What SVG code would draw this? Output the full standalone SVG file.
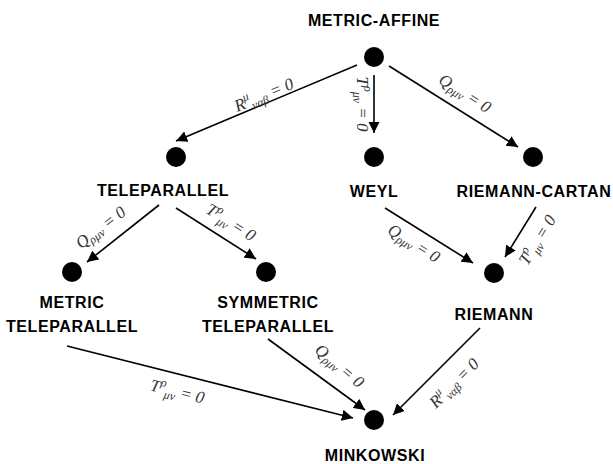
<svg xmlns="http://www.w3.org/2000/svg" width="613" height="464" viewBox="0 0 613 464">
<style>
.lbl{font-family:"Liberation Sans",Arial,sans-serif;font-weight:bold;font-size:16px;letter-spacing:0.6px;fill:#000;text-anchor:middle}
.m{font-family:"Liberation Serif","DejaVu Serif",serif;font-style:italic;font-size:17px;fill:#333;text-anchor:middle}
.s{font-size:12px}
.e{stroke:#000;stroke-width:1.6;fill:none;marker-end:url(#ah)}
.dot{fill:#000}
</style>
<defs>
<marker id="ah" viewBox="0 0 10 10" refX="10" refY="5" markerWidth="7" markerHeight="7" markerUnits="strokeWidth" orient="auto">
<path d="M0,0 L10,5 L0,10 z" fill="#000"/>
</marker>
</defs>
<rect width="613" height="464" fill="#fff"/>
<g id="n-metric-affine"><circle class="dot" cx="374" cy="57" r="10"/><text class="lbl" x="374" y="26">METRIC-AFFINE</text></g>
<g id="n-teleparallel"><circle class="dot" cx="176" cy="157" r="10"/><text class="lbl" x="163" y="196">TELEPARALLEL</text></g>
<g id="n-weyl"><circle class="dot" cx="374" cy="157" r="10"/><text class="lbl" x="374" y="197">WEYL</text></g>
<g id="n-riemann-cartan"><circle class="dot" cx="533" cy="157" r="10"/><text class="lbl" x="534" y="197">RIEMANN-CARTAN</text></g>
<g id="n-metric-teleparallel"><circle class="dot" cx="72" cy="272" r="10"/><text class="lbl" x="72" y="308">METRIC</text><text class="lbl" x="72" y="332">TELEPARALLEL</text></g>
<g id="n-symmetric-teleparallel"><circle class="dot" cx="266" cy="272" r="10"/><text class="lbl" x="268" y="308">SYMMETRIC</text><text class="lbl" x="268" y="332">TELEPARALLEL</text></g>
<g id="n-riemann"><circle class="dot" cx="494" cy="273" r="10"/><text class="lbl" x="494" y="320">RIEMANN</text></g>
<g id="n-minkowski"><circle class="dot" cx="374" cy="420" r="10"/><text class="lbl" x="375" y="461">MINKOWSKI</text></g>
<g id="connectors">
<line class="e" x1="357" y1="65" x2="176" y2="141"/>
<line class="e" x1="374" y1="75" x2="374" y2="133"/>
<line class="e" x1="389" y1="66" x2="518" y2="147"/>
<line class="e" x1="159" y1="205" x2="87" y2="262"/>
<line class="e" x1="176" y1="208" x2="256" y2="259"/>
<line class="e" x1="385" y1="208" x2="473" y2="263"/>
<line class="e" x1="536" y1="207" x2="505" y2="257"/>
<line class="e" x1="67" y1="346" x2="353" y2="418"/>
<line class="e" x1="268" y1="339" x2="365" y2="410"/>
<line class="e" x1="480" y1="328" x2="393" y2="415"/>
<text class="m" transform="translate(266,100) rotate(-22.6)">R<tspan class="s" dy="-7">μ</tspan><tspan class="s" dy="11">ναβ</tspan><tspan dy="-4"> = 0</tspan></text>
<text class="m" transform="translate(357,104) rotate(90)">T<tspan class="s" dy="-7">ρ</tspan><tspan class="s" dy="11">μν</tspan><tspan dy="-4"> = 0</tspan></text>
<text class="m" transform="translate(462,98) rotate(32.4)">Q<tspan class="s" dy="3">ρμν</tspan><tspan dy="-3"> = 0</tspan></text>
<text class="m" transform="translate(104,232) rotate(-37.4)">Q<tspan class="s" dy="3">ρμν</tspan><tspan dy="-3"> = 0</tspan></text>
<text class="m" transform="translate(228,227) rotate(32.5)">T<tspan class="s" dy="-7">ρ</tspan><tspan class="s" dy="11">μν</tspan><tspan dy="-4"> = 0</tspan></text>
<text class="m" transform="translate(411,248) rotate(32)">Q<tspan class="s" dy="3">ρμν</tspan><tspan dy="-3"> = 0</tspan></text>
<text class="m" transform="translate(542,243) rotate(-58)">T<tspan class="s" dy="-7">ρ</tspan><tspan class="s" dy="11">μν</tspan><tspan dy="-4"> = 0</tspan></text>
<text class="m" transform="translate(176,397) rotate(14)">T<tspan class="s" dy="-7">ρ</tspan><tspan class="s" dy="11">μν</tspan><tspan dy="-4"> = 0</tspan></text>
<text class="m" transform="translate(336,370) rotate(40)">Q<tspan class="s" dy="3">ρμν</tspan><tspan dy="-3"> = 0</tspan></text>
<text class="m" transform="translate(458,387) rotate(-45)">R<tspan class="s" dy="-7">μ</tspan><tspan class="s" dy="11">ναβ</tspan><tspan dy="-4"> = 0</tspan></text>
</g>
</svg>
